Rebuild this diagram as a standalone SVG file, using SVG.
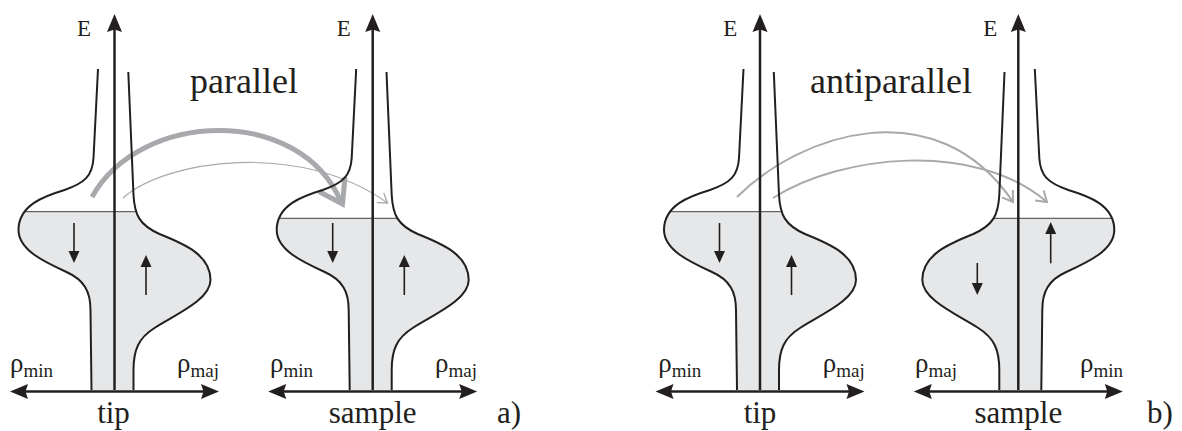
<svg xmlns="http://www.w3.org/2000/svg" xmlns:xlink="http://www.w3.org/1999/xlink" width="1182" height="431" viewBox="0 0 1182 431">
<style>
  text { font-family: "Liberation Serif", "Times New Roman", "DejaVu Serif", serif; fill: #231f20; }
  .lbl { font-size: 23px; }
  .big { font-size: 36px; }
  .name { font-size: 31px; text-anchor: middle; }
  .rho { font-size: 27px; }
  .sub { font-size: 19px; }
  .fill { fill: #e6e7e8; stroke: none; }
  .fermi { stroke: #414042; stroke-width: 1; fill: none; }
  .outline { fill: none; stroke: #231f20; stroke-width: 2; stroke-linejoin: round; }
  .axis { stroke: #231f20; stroke-width: 2.5; fill: none; }
  .spin { stroke: #231f20; stroke-width: 1.6; fill: none; }
  .thick { fill: none; stroke: #a7a9ac; stroke-width: 5; }
  .thickhead { fill: none; stroke: #a7a9ac; stroke-width: 5; stroke-linejoin: miter; stroke-miterlimit: 10; }
  .thin1 { fill: none; stroke: #a7a9ac; stroke-width: 1.1; }
  .thin2 { fill: none; stroke: #a7a9ac; stroke-width: 2; }
</style>
<defs>
  <marker id="axh" viewBox="-12 -9 22 18" refX="0" refY="0" markerWidth="22" markerHeight="18" markerUnits="userSpaceOnUse" orient="auto-start-reverse">
    <path d="M8,0 L-10,-7.5 L-7.5,0 L-10,7.5 Z" fill="#231f20"/>
  </marker>
  <marker id="sp" viewBox="-9 -7 16 14" refX="0" refY="0" markerWidth="16" markerHeight="14" markerUnits="userSpaceOnUse" orient="auto">
    <path d="M5,0 L-7,-5.5 L-7,5.5 Z" fill="#231f20"/>
  </marker>
  <marker id="gv1" viewBox="-12 -9 14 18" refX="0" refY="0" markerWidth="14" markerHeight="18" markerUnits="userSpaceOnUse" orient="auto">
    <path d="M-9,-6 L0,0 L-9,6" fill="none" stroke="#a7a9ac" stroke-width="1.4"/>
  </marker>
  <marker id="gv2" viewBox="-12 -9 14 18" refX="0" refY="0" markerWidth="14" markerHeight="18" markerUnits="userSpaceOnUse" orient="auto">
    <path d="M-10,-6.5 L0,0 L-10,6.5" fill="none" stroke="#a7a9ac" stroke-width="2"/>
  </marker>
  <path id="outL" d="M -16.5 69 L -21 158 C -22 176 -30 183 -50 190 C -70 196 -96 205 -96 230 C -96 250 -70 262 -48 272 C -30 280 -24 292 -24 310 L -23 390"/>
  <path id="outR" d="M 13.8 72 L 19 195 C 20 215 25 225 45 234 C 70 244 96 255 96 280 C 96 300 60 315 40 328 C 24 338 19 350 19 370 L 19 390"/>
  <clipPath id="dosClip" clipPathUnits="userSpaceOnUse">
    <path d="M -16.5 69 L -21 158 C -22 176 -30 183 -50 190 C -70 196 -96 205 -96 230 C -96 250 -70 262 -48 272 C -30 280 -24 292 -24 310 L -23 390 L 19 390 L 19 370 C 19 350 24 338 40 328 C 60 315 96 300 96 280 C 96 255 70 244 45 234 C 25 225 20 215 19 195 L 13.8 72 Z"/>
  </clipPath>
</defs>

<g id="connectors">
  <path class="thick" d="M92,197 C140,110 300,105 341,202"/>
  <path class="thickhead" d="M319,191.5 L342.5,204 L345,177"/>
  <path class="thin1" d="M123,198 C165,160 300,140 387.5,203" marker-end="url(#gv1)"/>
  <path class="thin2" d="M737,197 C800,134 936,88 1013,202" marker-end="url(#gv2)"/>
  <path class="thin2" d="M773,198 C840,155 975,140 1047,202" marker-end="url(#gv2)"/>
</g>

<g id="panel-tip-a" transform="translate(114.5,0)">
  <g clip-path="url(#dosClip)">
    <rect class="fill" x="-110" y="211.7" width="220" height="180"/>
    <line class="fermi" x1="-110" y1="211.7" x2="110" y2="211.7"/>
  </g>
  <use xlink:href="#outL" class="outline"/>
  <use xlink:href="#outR" class="outline"/>
  <line class="spin" x1="-40.5" y1="223" x2="-40.5" y2="258" marker-end="url(#sp)"/>
  <line class="spin" x1="31.5" y1="295" x2="31.5" y2="260" marker-end="url(#sp)"/>
  <line class="axis" x1="0" y1="390" x2="0" y2="22" marker-end="url(#axh)"/>
  <line class="axis" x1="-96.5" y1="391.5" x2="96.5" y2="391.5" marker-start="url(#axh)" marker-end="url(#axh)"/>
  <text class="lbl" x="-37.5" y="36">E</text>
  <text class="rho" x="-104.5" y="371.5">ρ<tspan class="sub" dy="5">min</tspan></text>
  <text class="rho" x="62.5" y="371.5">ρ<tspan class="sub" dy="5">maj</tspan></text>
  <text class="name" x="-1" y="423">tip</text>
</g>

<g id="panel-sample-a" transform="translate(372.7,0)">
  <g clip-path="url(#dosClip)">
    <rect class="fill" x="-110" y="218.3" width="220" height="180"/>
    <line class="fermi" x1="-110" y1="218.3" x2="110" y2="218.3"/>
  </g>
  <use xlink:href="#outL" class="outline"/>
  <use xlink:href="#outR" class="outline"/>
  <line class="spin" x1="-40" y1="223" x2="-40" y2="258" marker-end="url(#sp)"/>
  <line class="spin" x1="31.6" y1="295" x2="31.6" y2="260" marker-end="url(#sp)"/>
  <line class="axis" x1="0" y1="390" x2="0" y2="22" marker-end="url(#axh)"/>
  <line class="axis" x1="-96.5" y1="391.5" x2="96.5" y2="391.5" marker-start="url(#axh)" marker-end="url(#axh)"/>
  <text class="lbl" x="-36" y="36">E</text>
  <text class="rho" x="-102.7" y="371.5">ρ<tspan class="sub" dy="5">min</tspan></text>
  <text class="rho" x="62.3" y="371.5">ρ<tspan class="sub" dy="5">maj</tspan></text>
  <text class="name" x="0" y="423">sample</text>
</g>

<g id="panel-tip-b" transform="translate(760,0)">
  <g clip-path="url(#dosClip)">
    <rect class="fill" x="-110" y="211.7" width="220" height="180"/>
    <line class="fermi" x1="-110" y1="211.7" x2="110" y2="211.7"/>
  </g>
  <use xlink:href="#outL" class="outline"/>
  <use xlink:href="#outR" class="outline"/>
  <line class="spin" x1="-40.5" y1="223" x2="-40.5" y2="258" marker-end="url(#sp)"/>
  <line class="spin" x1="31.5" y1="295" x2="31.5" y2="260" marker-end="url(#sp)"/>
  <line class="axis" x1="0" y1="390" x2="0" y2="22" marker-end="url(#axh)"/>
  <line class="axis" x1="-96.5" y1="391.5" x2="96.5" y2="391.5" marker-start="url(#axh)" marker-end="url(#axh)"/>
  <text class="lbl" x="-36.7" y="36">E</text>
  <text class="rho" x="-101.7" y="371.5">ρ<tspan class="sub" dy="5">min</tspan></text>
  <text class="rho" x="62.7" y="371.5">ρ<tspan class="sub" dy="5">maj</tspan></text>
  <text class="name" x="0" y="423">tip</text>
</g>

<g id="panel-sample-b">
  <g transform="translate(1018.3,0) scale(-1,1)">
    <g clip-path="url(#dosClip)">
      <rect class="fill" x="-110" y="218.3" width="220" height="180"/>
      <line class="fermi" x1="-110" y1="218.3" x2="110" y2="218.3"/>
    </g>
    <use xlink:href="#outL" class="outline"/>
    <use xlink:href="#outR" class="outline"/>
  </g>
  <g transform="translate(1018.3,0)">
    <line class="spin" x1="-41" y1="263" x2="-41" y2="290" marker-end="url(#sp)"/>
    <line class="spin" x1="32.4" y1="263.3" x2="32.4" y2="227" marker-end="url(#sp)"/>
    <line class="axis" x1="0" y1="390" x2="0" y2="22" marker-end="url(#axh)"/>
    <line class="axis" x1="-96.5" y1="391.5" x2="96.5" y2="391.5" marker-start="url(#axh)" marker-end="url(#axh)"/>
    <text class="lbl" x="-35" y="36">E</text>
    <text class="rho" x="-103.3" y="371.5">ρ<tspan class="sub" dy="5">maj</tspan></text>
    <text class="rho" x="61.7" y="371.5">ρ<tspan class="sub" dy="5">min</tspan></text>
    <text class="name" x="0" y="423">sample</text>
  </g>
</g>

<g id="titles">
  <text class="big" x="190" y="93">parallel</text>
  <text class="big" x="810" y="93">antiparallel</text>
  <text class="name" x="509" y="423">a)</text>
  <text class="name" x="1160" y="423">b)</text>
</g>
</svg>
